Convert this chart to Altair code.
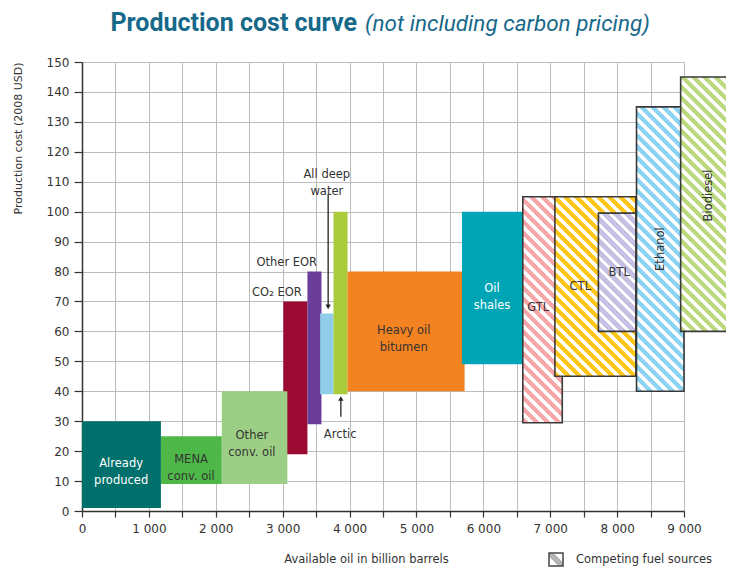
import math
import altair as alt
import pandas as pd

# ---------------- data ----------------
names = ["Already produced", "MENA conv. oil", "CO2 EOR", "Other conv. oil", "Other EOR",
         "All deep water", "Arctic", "Heavy oil bitumen", "Oil shales",
         "GTL", "CTL", "BTL", "Ethanol", "Biodiesel"]
x_start = [0, 1180, 3010, 2090, 3370, 3560, 3760, 3970, 5680, 6590, 7070, 7720, 8290, 8950]
x_end = [1180, 2090, 3370, 3070, 3580, 3760, 3970, 5720, 6580, 7180, 8280, 8280, 9000, 9800]
cost_low = [1, 9, 19, 9, 29, 39, 39, 40, 49, 29.5, 45, 60, 40, 60]
cost_high = [30, 25, 70, 40, 80, 66, 100, 80, 100, 105, 105, 99.5, 135, 145]
colors = ["#00706c", "#4db848", "#9b0a32", "#9ccf85", "#6a3d99",
          "#8fcde9", "#a9cb3c", "#f38221", "#00a5b5",
          "#f6a7a9", "#ffc61a", "#c6c0e2", "#8dd3f4", "#bcd97f"]
competing = [False] * 9 + [True] * 5

# labels centred inside bars
lab_text = ["Already\nproduced", "MENA\nconv. oil", "Other\nconv. oil", "Heavy oil\nbitumen",
            "Oil\nshales", "GTL", "CTL", "BTL", "All deep\nwater", "Arctic"]
lab_x = [585, 1630, 2540, 4810, 6130, 6820, 7450, 8030, 3660, 3860]
lab_y = [15.6, 17, 25, 60, 74, 67.7, 74.8, 79.5, 112.3, 25.4]
lab_color = ["white", "#333333", "#333333", "#333333", "white",
             "#333333", "#333333", "#333333", "#333333", "#333333"]

# right-aligned labels
rlab_text = ["CO₂ EOR", "Other EOR"]
rlab_x = [3285, 3515]
rlab_y = [72.8, 83]

# rotated labels
vlab_text = ["Ethanol", "Biodiesel"]
vlab_x = [8650, 9370]
vlab_y = [87.5, 105.4]

# arrows
arrow_x = [3680, 3870]
arrow_from = [106, 31.5]
arrow_to = [68.2, 37.6]
arrow_shape = ["triangle-down", "triangle-up"]

XMAX, YMAX = 9000, 150
W, H = 602, 449
FONT = "DejaVu Sans"


def hatch(color, x0, x1, y0, y1, period=11.0, frac=0.58, white="white"):
    w = (x1 - x0) / XMAX * W
    h = (y1 - y0) / YMAX * H
    k = (w + h) / (w * w + h * h)
    n = (w + h) / period
    stops = []
    i = 0
    while i < n:
        a = i / n
        b = min((i + frac) / n, 1.0)
        c = min((i + 1) / n, 1.0)
        stops += [{"offset": a, "color": color}, {"offset": b, "color": color},
                  {"offset": b, "color": white}, {"offset": c, "color": white}]
        i += 1
    return {"gradient": "linear", "x1": 0, "y1": 1, "x2": k * w, "y2": 1 - k * h,
            "stops": stops}


df = pd.DataFrame({"name": names, "x0": x_start, "x1": x_end,
                   "y0": cost_low, "y1": cost_high, "color": colors,
                   "competing": competing})

x_axis = alt.Axis(values=list(range(0, 9001, 500)),
                  labelExpr="datum.value % 1000 == 0 ? replace(format(datum.value, ','), ',', ' ') : ''",
                  title="Available oil in billion barrels", titleX=284, titleY=48,
                  titleBaseline="middle", titleFontWeight="normal", titleFontSize=11.5,
                  titleFont=FONT, titleColor="#333333",
                  grid=True, gridColor="#bdbdbd", gridWidth=1,
                  domainColor="#333333", domainWidth=1.5,
                  tickColor="#333333", tickSize=6, tickWidth=1.2,
                  labelFont=FONT, labelFontSize=12, labelColor="#333333",
                  labelPadding=6, labelFlush=False, labelOverlap=False)
y_axis = alt.Axis(values=list(range(0, 151, 10)),
                  title="Production cost (2008 USD)", titleX=-64, titleY=0,
                  titleAngle=270, titleAlign="right", titleBaseline="middle",
                  titleFontWeight="normal", titleFontSize=11, titleFont=FONT,
                  titleColor="#333333",
                  grid=True, gridColor="#bdbdbd", gridWidth=1,
                  domainColor="#333333", domainWidth=1.5,
                  tickColor="#333333", tickSize=8, tickWidth=1.2,
                  labelFont=FONT, labelFontSize=12, labelColor="#333333",
                  labelPadding=5, labelFlush=False, labelOverlap=False)

xs = alt.Scale(domain=[0, XMAX], nice=False, zero=False)
ys = alt.Scale(domain=[0, YMAX], nice=False, zero=False)


def X(f):
    return alt.X(f, scale=xs, axis=x_axis)


def Y(f):
    return alt.Y(f, scale=ys, axis=y_axis)


solid = alt.Chart(df[~df["competing"]]).mark_rect().encode(
    x=X("x0:Q"), x2="x1:Q", y=Y("y0:Q"), y2="y1:Q",
    fill=alt.Fill("color:N", scale=None),
)

layers = [solid]
for _, r in df[df["competing"]].iterrows():
    layers.append(
        alt.Chart(pd.DataFrame([r])).mark_rect(
            fill=hatch(r["color"], r["x0"], r["x1"], r["y0"], r["y1"]),
            stroke="#3a3a3a", strokeWidth=1.6,
        ).encode(x=X("x0:Q"), x2="x1:Q", y=Y("y0:Q"), y2="y1:Q")
    )

arr_df = pd.DataFrame({"x0": arrow_x, "y0": arrow_from, "y1": arrow_to, "shape": arrow_shape})
layers.append(alt.Chart(arr_df).mark_rule(color="#222222", strokeWidth=1.3).encode(
    x=X("x0:Q"), y=Y("y0:Q"), y2="y1:Q"))
layers.append(alt.Chart(arr_df).mark_point(filled=True, size=28, color="#222222", opacity=1).encode(
    x=X("x0:Q"), y=Y("y1:Q"), shape=alt.Shape("shape:N", scale=None)))

lab_df = pd.DataFrame({"t": lab_text, "x0": lab_x, "y0": lab_y, "c": lab_color})
layers.append(alt.Chart(lab_df).mark_text(
    font=FONT, fontSize=11.5, lineBreak="\n", lineHeight=17, align="center",
    baseline="middle").encode(
    x=X("x0:Q"), y=Y("y0:Q"), text="t:N", color=alt.Color("c:N", scale=None)))

rlab_df = pd.DataFrame({"t": rlab_text, "x0": rlab_x, "y0": rlab_y})
layers.append(alt.Chart(rlab_df).mark_text(
    font=FONT, fontSize=11.5, align="right", baseline="middle", color="#333333").encode(
    x=X("x0:Q"), y=Y("y0:Q"), text="t:N"))

vlab_df = pd.DataFrame({"t": vlab_text, "x0": vlab_x, "y0": vlab_y})
layers.append(alt.Chart(vlab_df).mark_text(
    font=FONT, fontSize=11.5, align="center", baseline="middle", angle=270,
    color="#333333").encode(x=X("x0:Q"), y=Y("y0:Q"), text="t:N"))

# title (bold + italic parts)
title_df = pd.DataFrame({"t": ["Production cost curve"]})
layers.append(alt.Chart(title_df).mark_text(
    font="Roboto", fontSize=25, fontWeight="bold", align="right", baseline="alphabetic",
    color="#17698a").encode(x=alt.value(275), y=alt.value(-31), text="t:N"))
sub_df = pd.DataFrame({"t": ["(not including carbon pricing)"]})
layers.append(alt.Chart(sub_df).mark_text(
    font="Roboto", fontSize=22.5, fontStyle="italic", align="left", baseline="alphabetic",
    color="#17698a").encode(x=alt.value(283), y=alt.value(-31), text="t:N"))

# legend
leg_df = pd.DataFrame({"t": ["Competing fuel sources"]})
layers.append(alt.Chart(leg_df).mark_rect(
    fill={"gradient": "linear", "x1": 1, "y1": 0, "x2": 0, "y2": 1,
          "stops": [{"offset": 0, "color": "white"}, {"offset": 0.36, "color": "white"},
                    {"offset": 0.36, "color": "#b5b5b5"}, {"offset": 0.64, "color": "#b5b5b5"},
                    {"offset": 0.64, "color": "white"}, {"offset": 1, "color": "white"}]},
    stroke="#444444", strokeWidth=1.5).encode(
    x=alt.value(467), x2=alt.value(481), y=alt.value(491), y2=alt.value(504)))
layers.append(alt.Chart(leg_df).mark_text(
    font=FONT, fontSize=11.5, align="left", baseline="middle", color="#333333").encode(
    x=alt.value(494), y=alt.value(497.5), text="t:N"))

chart = alt.layer(*layers).properties(
    width=W, height=H,
    autosize=alt.AutoSizeParams(type="none"),
    padding={"left": 74, "top": 54, "right": 42, "bottom": 56},
).configure_view(stroke="#333333", strokeWidth=1.5).configure(background="white")

chart.save("out.html", embed_options={"renderer": "svg", "actions": False})
